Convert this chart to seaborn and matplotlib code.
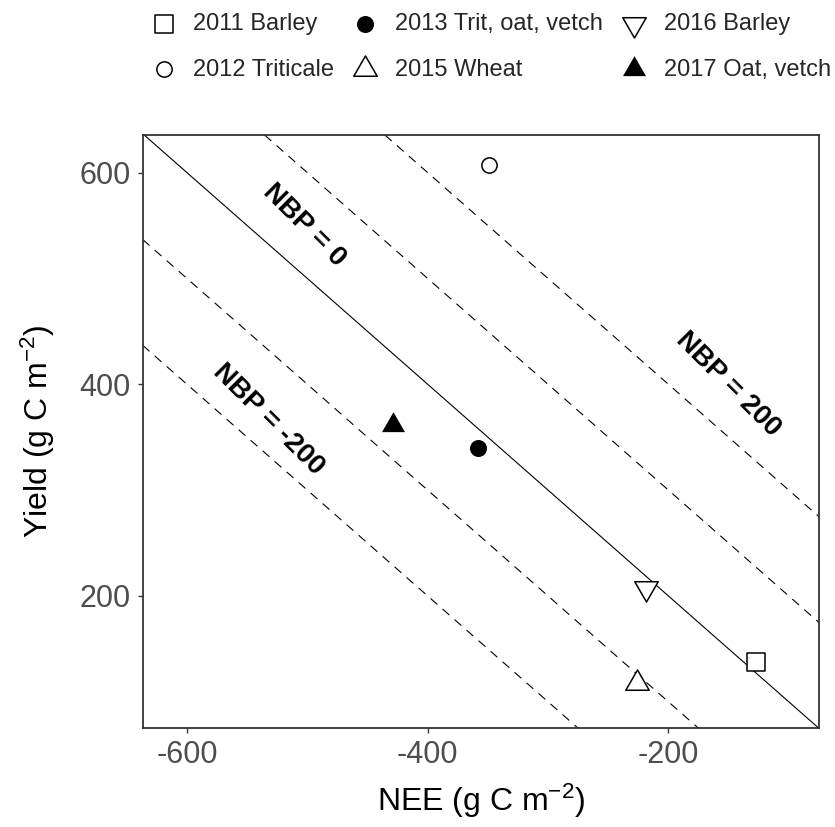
import matplotlib
matplotlib.use("Agg")
import matplotlib.pyplot as plt
from matplotlib.path import Path
import pandas as pd
import seaborn as sns

# Crop seasons: net ecosystem exchange vs harvested carbon
seasons = ["2011 Barley", "2012 Triticale", "2013 Trit, oat, vetch",
           "2015 Wheat", "2016 Barley", "2017 Oat, vetch"]
nee = [-127, -349, -358, -226, -219, -429]
yield_c = [138, 607, 340, 118, 208, 362]

# Iso-lines of net biome production (NBP = NEE + Yield)
nbp_levels = [-200, -100, 0, 100, 200]
nbp_styles = ["--", "--", "-", "--", "--"]
nbp_labels = ["NBP = -200", "NBP = 0", "NBP = 200"]
label_nee = [-532, -503, -150]
label_yield = [367, 550, 400]

x_ticks = [-600, -400, -200]
y_ticks = [200, 400, 600]

sns.set_style("white")
plt.rcParams["font.family"] = ["Liberation Sans", "DejaVu Sans"]
plt.rcParams["mathtext.fontset"] = "custom"
plt.rcParams["mathtext.rm"] = "Liberation Sans"
plt.rcParams["mathtext.it"] = "Liberation Sans:italic"
plt.rcParams["mathtext.bf"] = "Liberation Sans:bold"
plt.rcParams["axes.unicode_minus"] = False
plt.rcParams["lines.scale_dashes"] = False

df = pd.DataFrame({"season": seasons, "nee": nee, "yield": yield_c})

tri_up = Path([(0, 1), (-0.866, -0.5), (0.866, -0.5), (0, 1)], closed=True)
tri_down = Path([(0, -1), (-0.866, 0.5), (0.866, 0.5), (0, -1)], closed=True)

marker_specs = {
    "2011 Barley": dict(marker="s", s=177, color="white", linewidth=1.1),
    "2012 Triticale": dict(marker="o", s=121, color="white", linewidth=1.1),
    "2013 Trit, oat, vetch": dict(marker="o", s=150, color="black", linewidth=0),
    "2015 Wheat": dict(marker=tri_up, s=380, color="white", linewidth=1.1),
    "2016 Barley": dict(marker=tri_down, s=380, color="white", linewidth=1.1),
    "2017 Oat, vetch": dict(marker=tri_up, s=366, color="black", linewidth=0),
}

fig = plt.figure(figsize=(8.35, 8.27), dpi=100)
ax = fig.add_axes([0.1709, 0.1194, 0.8105, 0.7174])

ax.set_xlim(-636.8, -74.5)
ax.set_ylim(75, 635.6)

for level, ls in zip(nbp_levels, nbp_styles):
    kw = dict(color="black", linewidth=0.8, zorder=1)
    if ls == "--":
        kw["dashes"] = (6.5, 5.0)
    ax.axline((0, level), slope=-1, **kw)

handles = []
for season in seasons:
    sub = df[df["season"] == season]
    spec = marker_specs[season]
    before = len(ax.collections)
    sns.scatterplot(data=sub, x="nee", y="yield", ax=ax, edgecolor="black",
                    zorder=3, legend=False, **spec)
    handles.append(ax.collections[before])

for lab, lx, ly in zip(nbp_labels, label_nee, label_yield):
    ax.text(lx, ly, lab, rotation=-45, ha="center", va="center",
            rotation_mode="anchor", fontsize=20, fontweight="bold",
            color="black", zorder=4)

ax.set_xticks(x_ticks)
ax.set_yticks(y_ticks)
ax.tick_params(axis="both", which="major", direction="out", length=3.6,
               width=1.0, color="#333333", labelsize=22, labelcolor="#4D4D4D",
               bottom=True, left=True)
ax.tick_params(axis="x", pad=5)
ax.tick_params(axis="y", pad=5)

for sp in ax.spines.values():
    sp.set_color("#333333")
    sp.set_linewidth(1.3)
    sp.set_visible(True)

ax.set_xlabel(r"NEE (g C m$^{-2}$)", fontsize=23, color="black", labelpad=8)
ax.set_ylabel(r"Yield (g C m$^{-2}$)", fontsize=23, color="black", labelpad=16)
ax.grid(False)

fig.legend(handles, seasons, ncol=3, loc="upper left",
           bbox_to_anchor=(152 / 835, 1 - 13 / 827), frameon=False,
           fontsize=17, handlelength=1.0, handletextpad=0.75,
           columnspacing=0.82, labelspacing=1.0, borderpad=0,
           borderaxespad=0, scatterpoints=1)

fig.savefig("out.png", dpi=100)
